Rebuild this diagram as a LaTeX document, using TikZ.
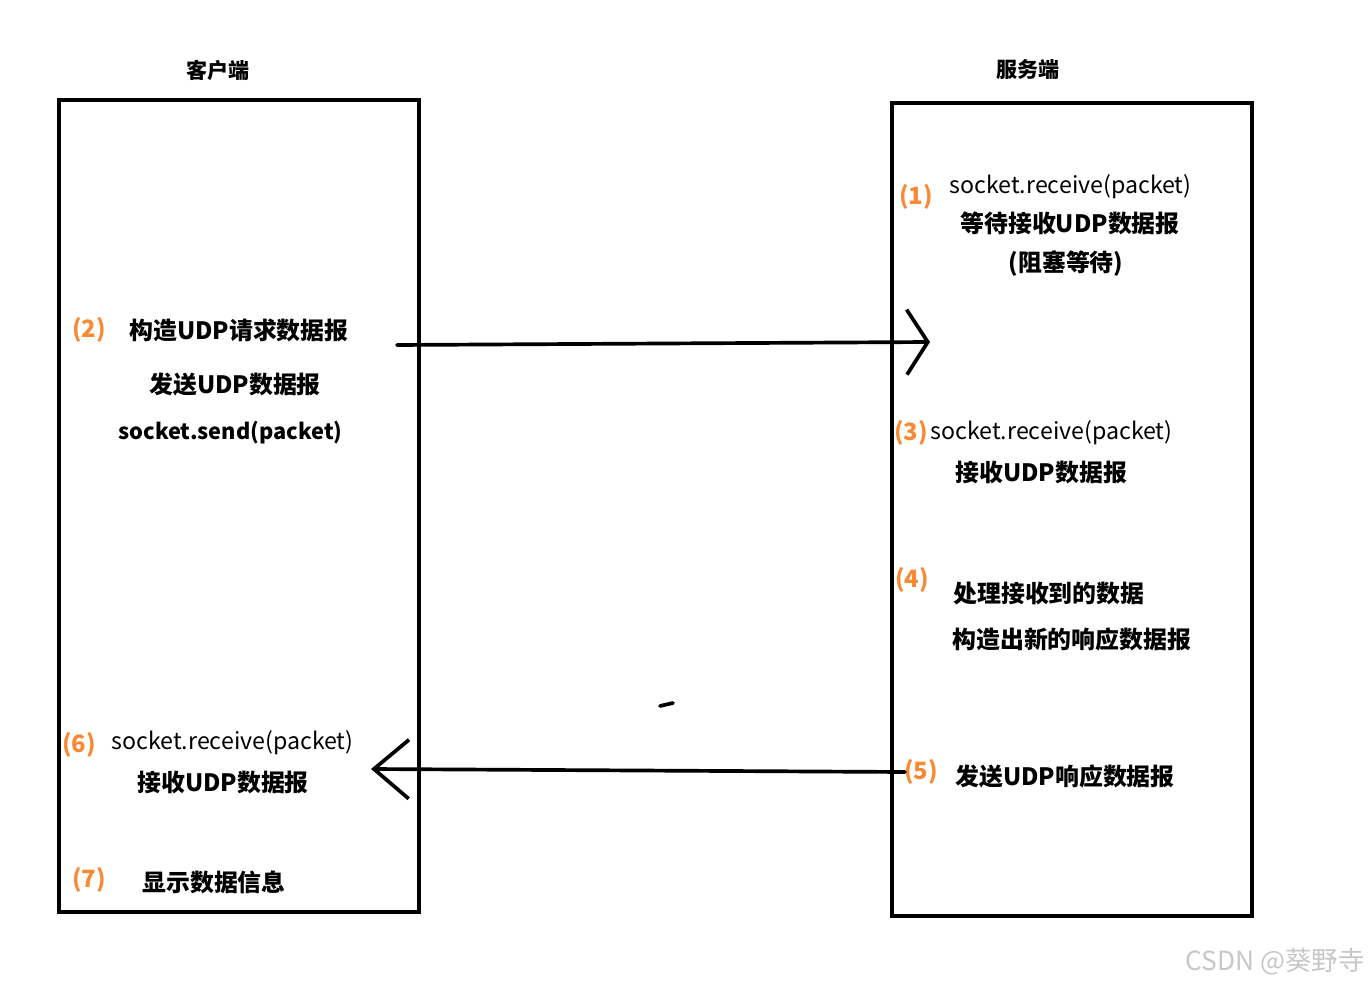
\documentclass[tikz,border=0pt]{standalone}
\usepackage{fontspec}
\setmainfont{Noto Sans CJK SC}
\usetikzlibrary{arrows.meta}
\definecolor{steporange}{RGB}{250,137,52}
\tikzset{
  hostbox/.style={draw, line width=2.3pt},
  hosttitle/.style={font=\fontsize{12}{14}\selectfont\bfseries, inner sep=0pt},
  msg/.style={font=\fontsize{13.6}{16}\selectfont\bfseries, inner sep=0pt, anchor=west},
  call/.style={font=\fontsize{13.2}{16}\selectfont, inner sep=0pt, anchor=west},
  stepno/.style={font=\fontsize{13.6}{16}\selectfont\bfseries, text=steporange, inner sep=0pt},
  packet/.style={line width=2.1pt, line cap=round,
    -{Straight Barb[length=0.42cm, width=1.3cm, line width=2.1pt]}},
  reppacket/.style={line width=2.1pt, line cap=round,
    -{Straight Barb[length=0.7cm, width=1.18cm, line width=2.1pt]}},
}

\begin{document}
\begin{tikzpicture}[x=0.02cm, y=-0.02cm]
  \useasboundingbox (0,0) rectangle (1369,986);
  % the two hosts
  \draw[hostbox] (59,100) rectangle (419,912);
  \draw[hostbox] (892,103) rectangle (1252,916);
  \node[hosttitle] (client) at (218,70) {客户端};
  \node[hosttitle] (server) at (1028,70) {服务端};
  % server: waiting
  \node[stepno] (s1) at (916,197) {(1)};
  \node[call] (wait) at (949,187) {socket.receive(packet)};
  \node[msg] (waitmsg) at (960,223) {等待接收UDP数据报};
  \node[msg, anchor=center] (block) at (1066,264) {(阻塞等待)};
  % client: request
  \node[stepno] (s2) at (89,330) {(2)};
  \node[msg] (build) at (129,330) {构造UDP请求数据报};
  \node[msg] (send) at (149,384) {发送UDP数据报};
  \node[msg, font=\fontsize{12.4}{16}\selectfont\bfseries] (sendcall) at (118,433) {socket.send(packet)};
  % server: receive and answer
  \node[stepno] (s3) at (911,433) {(3)};
  \node[call] (recv) at (930,433) {socket.receive(packet)};
  \node[msg] (recvmsg) at (955,472) {接收UDP数据报};
  \node[stepno] (s4) at (912,580) {(4)};
  \node[msg] (handle) at (953,593) {处理接收到的数据};
  \node[msg] (reply) at (952,639) {构造出新的响应数据报};
  \node[stepno] (s5) at (921,772) {(5)};
  \node[msg] (sendreply) at (955,776) {发送UDP响应数据报};
  % client: receive and show
  \node[stepno] (s6) at (79,745) {(6)};
  \node[call] (crecv) at (111,743) {socket.receive(packet)};
  \node[msg] (crecvmsg) at (137,782) {接收UDP数据报};
  \node[stepno] (s7) at (89,880) {(7)};
  \node[msg] (show) at (142,882) {显示数据信息};
  % packets
  \coordinate (reqfrom) at (397,345);
  \coordinate (reqto) at (930,342);
  \coordinate (repfrom) at (905,772);
  \coordinate (repto) at (371,769);
  \draw[packet] (reqfrom) -- (reqto);
  \draw[reppacket] (repfrom) -- (repto);
  \coordinate (dasha) at (660,706);
  \coordinate (dashb) at (673,703);
  \draw[line width=2.1pt, line cap=round] (dasha) -- (dashb);
  \node[font=\fontsize{15}{17}\selectfont, text=black!22, anchor=east, inner sep=0pt]
    (mark) at (1365,962) {CSDN @葵野寺};
\end{tikzpicture}
\end{document}
